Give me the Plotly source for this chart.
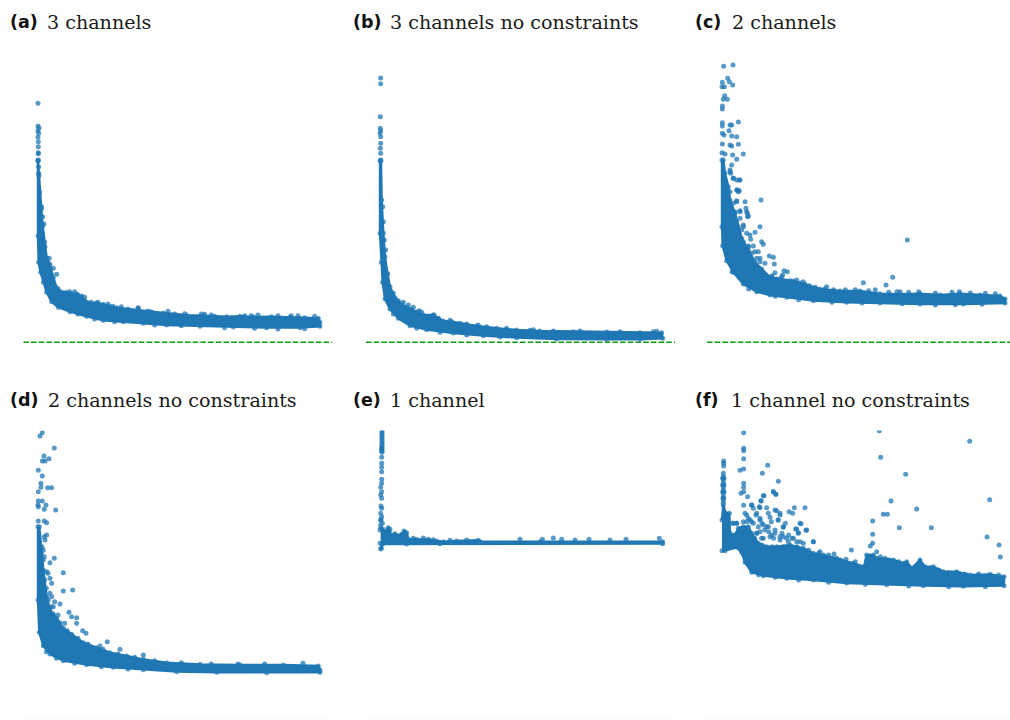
import plotly.graph_objects as go

W, H = 1010, 720
BLUE = "#1f77b4"

# Values are read from the picture. The chart has no axes, so units are arbitrary:
# x = steps from the first sample, y = height above the dashed reference level.
a_up_x = [0, 3, 5, 10, 14, 20, 26, 36, 46, 56, 71, 85, 101, 118, 131, 151, 175, 196, 215, 236, 270, 301, 340, 376, 410, 446, 496, 530, 566, 606, 646, 700, 756, 800, 841, 846]
a_up_y = [545, 500, 450, 400, 350, 300, 254, 234, 194, 164, 151, 150, 146, 143, 136, 119, 118, 114, 108, 104, 100, 96, 92, 88, 85, 81, 80, 78, 77, 78, 76, 77, 76, 74, 72, 60]
a_lo_x = [0, 0, 2, 8, 16, 26, 41, 61, 96, 146, 196, 256, 316, 386, 486, 586, 686, 786, 846]
a_lo_y = [545, 320, 240, 210, 180, 150, 122, 105, 92, 78, 66, 62, 57, 52, 48, 46, 44, 44, 48]
a_out_x = [0, 0, 3, 0, 2, 0, 1, 1, 1, 1, 1, 2, 2, 11, 14, 18, 11, 21, 34, 46, 56, 76, 118, 131, 301, 60, 95, 160, 210, 250, 390, 500, 640, 760]
a_out_y = [717, 649, 643, 635, 627, 615, 602, 587, 569, 566, 547, 527, 507, 407, 377, 355, 317, 287, 252, 222, 204, 147, 144, 139, 102, 160, 152, 120, 115, 107, 93, 84, 80, 80]
a_edge_x = [110, 140, 180, 225, 300, 330, 440, 490, 520, 620, 660, 720, 780, 830, 120, 170, 230, 350, 430, 560, 650, 720, 800]
a_edge_y = [152, 135, 120, 108, 104, 94, 86, 85, 82, 80, 82, 80, 80, 78, 85, 70, 62, 52, 50, 44, 42, 40, 41]

b_up_x = [3, 5, 10, 15, 22, 30, 45, 65, 80, 95, 112, 130, 160, 190, 215, 240, 290, 350, 410, 480, 580, 680, 780, 845]
b_up_y = [545, 427, 327, 257, 207, 167, 134, 114, 106, 99, 92, 82, 82, 64, 62, 57, 49, 42, 37, 34, 32, 31, 29, 29]
b_lo_x = [0, 0, 4, 8, 15, 30, 55, 90, 140, 220, 310, 410, 530, 680, 780, 848]
b_lo_y = [545, 327, 240, 180, 130, 100, 72, 50, 38, 28, 20, 14, 10, 9, 9, 12]
b_out_x = [2, 2, 1, 1, 2, 0, 2, 2, 1, 2, 2, 8, 10, 13, 17, 23, 40, 118, 162, 295, 70, 100, 210, 460, 820]
b_out_y = [793, 776, 677, 642, 635, 627, 617, 597, 582, 567, 547, 407, 362, 307, 277, 205, 147, 95, 82, 52, 120, 105, 66, 38, 32]
b_edge_x = [55, 85, 125, 175, 260, 320, 380, 450, 520, 600, 720, 830, 40, 110, 180, 260, 360]
b_edge_y = [125, 112, 90, 72, 55, 47, 42, 36, 34, 34, 32, 33, 85, 42, 30, 22, 16]

c_up_x = [4, 9, 19, 24, 39, 49, 59, 79, 99, 119, 144, 174, 214, 249, 294, 354, 414, 474, 534, 594, 654, 714, 774, 834, 849]
c_up_y = [547, 507, 467, 427, 387, 347, 312, 277, 240, 220, 195, 190, 184, 174, 160, 154, 154, 146, 144, 146, 142, 146, 142, 139, 130]
c_lo_x = [0, 0, 2, 14, 34, 64, 104, 144, 194, 274, 374, 474, 594, 724, 849]
c_lo_y = [547, 347, 290, 245, 210, 175, 152, 142, 135, 125, 120, 118, 115, 115, 118]
c_out_x = [5, 33, 17, 22, 1, 0, 7, 32, 8, 4, 16, 1, 1, 1, 1, 24, 29, 49, 1, 6, 21, 29, 44, 1, 24, 29, 49, 64, 0, 9, 32, 44, 29, 24, 26, 44, 54, 34, 46, 24, 52, 117, 69, 44, 72, 74, 79, 54, 114, 99, 64, 84, 86, 119, 124, 79, 99, 142, 154, 114, 157, 186, 196, 182, 556, 512, 492, 424, 534, 314]
c_out_y = [828, 832, 792, 782, 780, 767, 767, 772, 740, 729, 729, 709, 700, 659, 649, 652, 652, 661, 627, 622, 635, 619, 617, 595, 592, 589, 594, 565, 569, 565, 562, 549, 532, 517, 507, 487, 487, 492, 457, 452, 455, 427, 422, 422, 402, 392, 379, 392, 347, 330, 347, 322, 309, 302, 294, 289, 272, 259, 255, 252, 235, 215, 212, 202, 307, 195, 172, 179, 152, 167]
c_edge_x = [24, 34, 52, 44, 49, 44, 34, 39, 54, 76, 77, 44, 54, 64, 59, 74, 64, 79, 94, 89, 109, 104, 114, 129, 159, 179, 149, 224, 244, 150, 165, 205, 235, 262, 280, 308, 335, 370, 400, 440, 460, 500, 525, 560, 590, 640, 690, 712, 745, 790, 820, 30, 80, 160, 230, 330, 420, 540, 640, 700, 780]
c_edge_y = [512, 492, 487, 457, 452, 425, 417, 392, 395, 387, 377, 362, 372, 352, 337, 327, 302, 287, 289, 267, 272, 252, 242, 237, 209, 197, 197, 187, 182, 200, 190, 185, 178, 170, 165, 160, 158, 158, 158, 155, 158, 150, 152, 150, 152, 148, 150, 152, 148, 147, 146, 212, 160, 138, 128, 120, 118, 116, 112, 113, 114]

d_up_x = [4, 11, 16, 26, 36, 56, 76, 101, 136, 176, 216, 266, 316, 386, 486, 606, 736, 841, 846]
d_up_y = [580, 500, 450, 370, 330, 305, 275, 257, 232, 217, 202, 192, 182, 172, 167, 165, 165, 162, 150]
d_lo_x = [0, 0, 4, 16, 36, 76, 146, 226, 316, 416, 536, 686, 846]
d_lo_y = [580, 360, 263, 223, 198, 178, 166, 158, 151, 145, 143, 142, 143]
d_out_x = [13, 6, 49, 18, 33, 13, 21, 1, 13, 9, 9, 29, 41, 1, 1, 13, 0, 24, 1, 53, 19, 1, 19, 26, 26, 19, 21, 16, 19, 49, 36, 76, 26, 36, 41, 76, 104, 36, 41, 66, 93, 116, 101, 116, 134, 144, 208, 246, 316, 186]
d_out_y = [862, 852, 816, 792, 784, 777, 777, 749, 732, 710, 698, 697, 697, 685, 657, 657, 645, 645, 640, 630, 632, 597, 597, 592, 555, 550, 540, 510, 490, 485, 472, 442, 445, 425, 410, 387, 390, 380, 370, 348, 323, 307, 310, 290, 268, 260, 235, 212, 195, 222]
d_edge_x = [46, 66, 88, 120, 150, 195, 240, 290, 350, 430, 520, 600, 680, 795, 31, 28, 46, 50, 60, 80, 25, 20, 12, 16, 30, 40, 25, 55, 110, 190, 270]
d_edge_y = [318, 292, 268, 245, 228, 212, 198, 188, 178, 172, 168, 168, 168, 170, 360, 345, 340, 355, 315, 290, 395, 420, 520, 480, 440, 340, 205, 185, 170, 160, 153]

e_up_x = [2, 10, 15, 25, 30, 32, 45, 55, 65, 72, 80, 85, 110, 145, 170, 190, 230, 295, 300, 480, 848]
e_up_y = [577, 572, 562, 577, 572, 552, 559, 552, 557, 567, 562, 542, 542, 542, 537, 535, 537, 539, 535, 535, 535]
e_lo_x = [2, 8, 80, 180, 848]
e_lo_y = [513, 528, 528, 529, 529]
e_out_x = [6, 6, 6, 6, 6, 6, 6, 6, 6, 6, 6, 6, 5, 5, 5, 5, 5, 5, 5, 5, 2, 5, 2, 5, 3, 5, 2, 5, 2, 2, 0, 487, 520, 545, 627, 738, 838, 420, 690, 585]
e_out_y = [868, 862, 856, 850, 844, 838, 832, 826, 820, 815, 808, 803, 815, 808, 788, 770, 758, 745, 722, 710, 698, 685, 675, 665, 642, 635, 620, 610, 600, 585, 570, 542, 546, 542, 542, 542, 545, 542, 540, 540]
e_edge_x = [0, 4, 3, 7, 20, 40, 60, 100, 130, 160, 210, 260]
e_edge_y = [530, 515, 600, 590, 565, 555, 553, 545, 546, 541, 539, 540]

f_up_x = [0, 4, 11, 22, 24, 39, 49, 64, 79, 89, 109, 134, 164, 204, 244, 274, 304, 344, 394, 426, 434, 454, 464, 489, 514, 544, 554, 569, 594, 609, 634, 664, 704, 744, 804, 846]
f_up_y = [600, 645, 620, 620, 560, 555, 575, 580, 580, 560, 530, 520, 520, 525, 515, 500, 495, 485, 470, 460, 495, 495, 485, 485, 480, 470, 475, 455, 480, 460, 460, 445, 445, 435, 437, 430]
f_lo_x = [0, 9, 44, 59, 69, 89, 124, 194, 274, 374, 494, 604, 724, 846]
f_lo_y = [508, 508, 518, 503, 473, 443, 433, 425, 420, 411, 406, 403, 401, 403]
f_out_x = [65, 65, 65, 65, 65, 54, 137, 121, 169, 65, 65, 65, 57, 77, 154, 161, 126, 117, 89, 65, 217, 249, 114, 134, 164, 201, 212, 102, 74, 144, 114, 174, 237, 184, 32, 44, 109, 134, 221, 252, 229, 159, 114, 144, 174, 194, 274, 224, 244, 294, 336, 388, 372, 472, 476, 743, 551, 803, 507, 584, 484, 496, 452, 532, 628, 452, 795, 831, 452, 445, 835, 464, 84, 94, 104, 120, 128, 148, 155, 168, 180, 200, 210, 124, 140, 190, 98, 5, 5, 5, 4, 4, 4, 4, 4, 4, 4, 4, 4, 4]
f_out_y = [862, 815, 808, 784, 753, 749, 764, 740, 716, 710, 698, 685, 680, 670, 685, 677, 673, 658, 645, 644, 637, 637, 637, 637, 628, 625, 620, 615, 615, 608, 600, 615, 589, 578, 590, 590, 580, 580, 573, 569, 562, 560, 565, 550, 550, 545, 535, 535, 530, 505, 498, 510, 482, 868, 788, 836, 737, 661, 657, 633, 617, 617, 597, 577, 577, 557, 549, 525, 530, 522, 489, 505, 600, 590, 560, 590, 570, 595, 545, 600, 560, 555, 545, 545, 565, 590, 545, 777, 770, 762, 740, 730, 720, 710, 700, 690, 680, 670, 660, 650]
f_edge_x = [89, 94, 112, 117, 104, 114, 89, 74, 124, 159, 174, 169, 139, 159, 184, 234, 224, 254, 229, 149, 184, 214, 274, 199, 234, 174, 119, 104, 139, 79, 64, 34, 44, 69, 154, 162, 124, 2, 6, 2, 6, 2, 6, 3, 5, 120, 150, 185, 225, 260, 290, 320, 355, 400, 440, 475, 500, 530, 575, 620, 650, 680, 730, 770, 830, 110, 160, 230, 320, 430, 560, 680, 790]
f_edge_y = [645, 635, 640, 657, 620, 605, 595, 595, 585, 630, 620, 600, 580, 570, 580, 590, 573, 570, 560, 555, 550, 545, 535, 535, 535, 540, 545, 560, 620, 605, 595, 590, 590, 620, 685, 677, 673, 725, 725, 705, 705, 685, 685, 665, 665, 525, 520, 520, 520, 510, 500, 495, 480, 475, 465, 490, 480, 475, 455, 450, 450, 442, 437, 438, 435, 436, 428, 420, 413, 407, 402, 400, 400]

ref_x = {"a": [-44, 883], "b": [-42, 885], "c": [-45, 864], "d": [-44, 883], "e": [-42, 885], "f": [-45, 864]}
ref_level = [0, 0]

panels = [
    ("a", "(a)", "3 channels", a_up_x, a_up_y, a_lo_x, a_lo_y, a_out_x + a_edge_x, a_out_y + a_edge_y, 23.3, 332.3, 0, 10, 47),
    ("b", "(b)", "3 channels no constraints", b_up_x, b_up_y, b_lo_x, b_lo_y, b_out_x + b_edge_x, b_out_y + b_edge_y, 366, 675, 0, 352.5, 390),
    ("c", "(c)", "2 channels", c_up_x, c_up_y, c_lo_x, c_lo_y, c_out_x + c_edge_x, c_out_y + c_edge_y, 707, 1010, 0, 695, 732),
    ("d", "(d)", "2 channels no constraints", d_up_x, d_up_y, d_lo_x, d_lo_y, d_out_x + d_edge_x, d_out_y + d_edge_y, 23.3, 332.3, 1, 10, 48),
    ("e", "(e)", "1 channel", e_up_x, e_up_y, e_lo_x, e_lo_y, e_out_x + e_edge_x, e_out_y + e_edge_y, 366, 675, 1, 352.5, 390),
    ("f", "(f)", "1 channel no constraints", f_up_x, f_up_y, f_lo_x, f_lo_y, f_out_x + f_edge_x, f_out_y + f_edge_y, 707, 1010, 1, 695, 731),
]

fig = go.Figure()
layout = dict(
    width=W, height=H, margin=dict(l=0, r=0, t=0, b=0), showlegend=False,
    paper_bgcolor="white", plot_bgcolor="white", annotations=[],
)
rows = [dict(top=40.0, bottom=355.0, base=342.3, title=22), dict(top=430.5, bottom=720.0, base=720.0, title=400)]

for i, (key, tag, title, ux, uy, lx, ly, ox, oy, left, right, row, tag_px, title_px) in enumerate(panels):
    suffix = "" if i == 0 else str(i + 1)
    r = rows[row]
    layout["xaxis" + suffix] = dict(
        domain=[left / W, right / W], range=ref_x[key], visible=False, anchor="y" + suffix, fixedrange=True)
    layout["yaxis" + suffix] = dict(
        domain=[1 - r["bottom"] / H, 1 - r["top"] / H],
        range=[(r["base"] - r["bottom"]) * 3, (r["base"] - r["top"]) * 3],
        visible=False, anchor="x" + suffix, fixedrange=True)
    xa, ya = "x" + suffix, "y" + suffix
    if row == 0:
        fig.add_trace(go.Scatter(x=ref_x[key], y=ref_level, mode="lines", xaxis=xa, yaxis=ya,
                                 line=dict(color="#0a9a0a", width=1.5, dash="5.5px,2.2px")))
    else:
        fig.add_trace(go.Scatter(x=ref_x[key], y=[3, 3], mode="lines", xaxis=xa, yaxis=ya,
                                 line=dict(color="#f4f6f4", width=1, dash="5.5px,2.2px")))
    fig.add_trace(go.Scatter(
        x=ux + lx[::-1], y=uy + ly[::-1], mode="lines+markers", fill="toself", fillcolor=BLUE,
        xaxis=xa, yaxis=ya, line=dict(color=BLUE, width=2.4),
        marker=dict(size=5, color=BLUE, opacity=0.7, line=dict(width=0))))
    fig.add_trace(go.Scatter(
        x=ox, y=oy, mode="markers", xaxis=xa, yaxis=ya,
        marker=dict(size=5, color=BLUE, opacity=0.75, line=dict(width=0))))
    for text, px, fam, size, color in [
        (tag, tag_px, "DejaVu Sans", 17.5, "#111111"),
        (title, title_px, "DejaVu Serif", 19.1, "#1a1a1a"),
    ]:
        label = f"<b>{text}</b>" if text == tag else text
        layout["annotations"].append(dict(
            xref="paper", yref="paper", x=px / W, y=1 - r["title"] / H, xanchor="left", yanchor="middle",
            text=label, showarrow=False, font=dict(family=fam, size=size, color=color), borderpad=0, borderwidth=0))

fig.update_layout(**layout)
fig.write_html("out.html", config={"displayModeBar": False},
               post_script="document.body.style.margin='0';")
